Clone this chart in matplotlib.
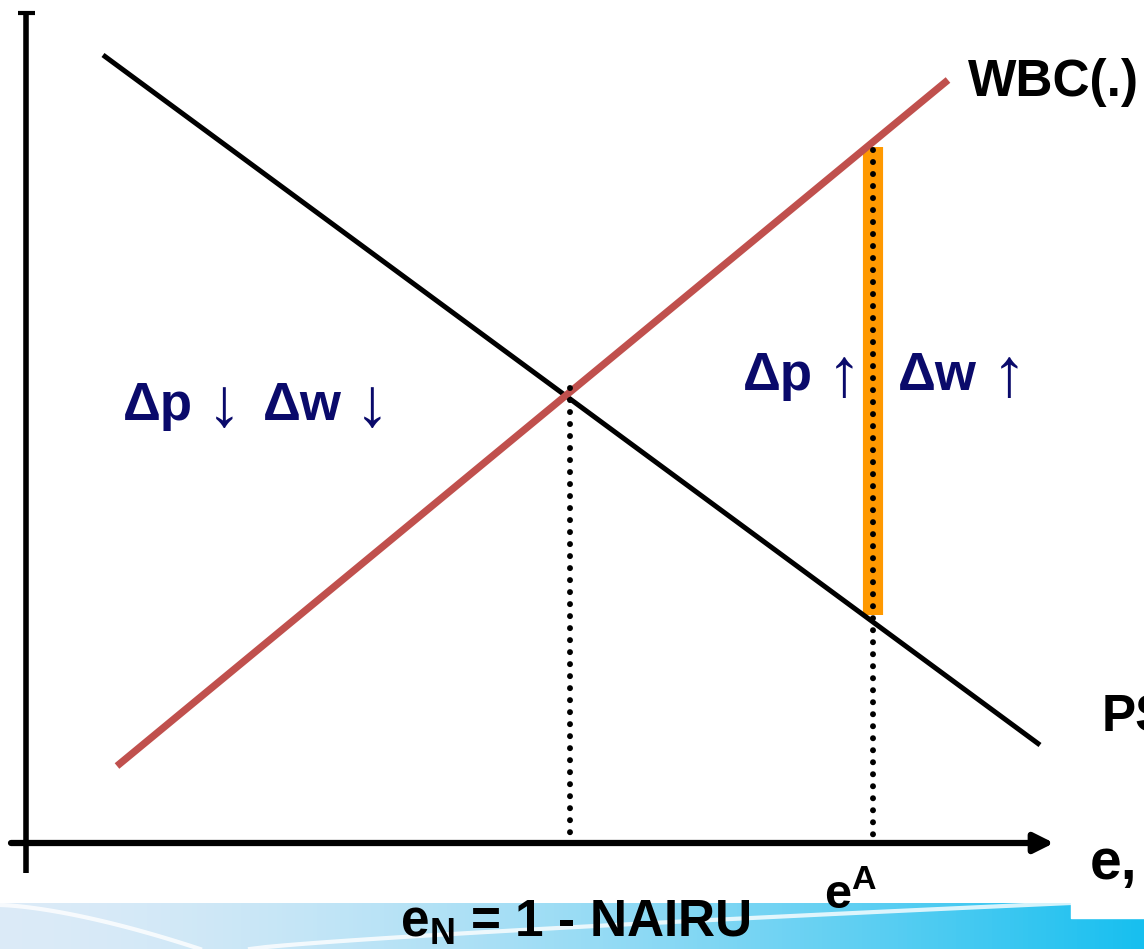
import numpy as np
import matplotlib
matplotlib.use("Agg")
import matplotlib.pyplot as plt

plt.rcParams['font.family'] = ['Liberation Sans', 'DejaVu Sans']
plt.rcParams['mathtext.fontset'] = 'custom'
plt.rcParams['mathtext.bf'] = 'Liberation Sans:bold'
plt.rcParams['mathtext.rm'] = 'Liberation Sans:bold'

# diagram coordinates (pixel-like, y grows downward)
ps_x = [103, 1040]          # price-setting curve, falls to the right
ps_y = [55, 745]
wbc_x = [117, 948]          # wage-bargaining curve, rises to the right
wbc_y = [766, 80]
e_n = 569                   # natural rate (intersection)
e_a = 873                   # actual employment e^A
gap_top, gap_bottom = 147, 615
axis_y = 843
axis_x = 26

navy = '#0a0a6b'
red = '#c0504d'
orange = '#ff9900'

fig = plt.figure(figsize=(11.44, 9.49), dpi=100)
ax = fig.add_axes([0, 0, 1, 1])
ax.set_xlim(0, 1144)
ax.set_ylim(949, 0)
ax.axis('off')

# bottom slide band (light blue -> cyan gradient)
grad = np.linspace(0, 1, 256)
c0 = np.array([0.86, 0.92, 0.97])
c1 = np.array([0.09, 0.75, 0.94])
band = c0[None, :] * (1 - grad[:, None] ** 1.6) + c1[None, :] * grad[:, None] ** 1.6
ax.imshow(band[None, :, :], extent=[0, 1144, 949, 903], aspect='auto', zorder=0)
ax.fill_between([1071, 1144], 903, 918, color='white', zorder=1)
sx = np.linspace(0, 200, 50)
ax.plot(sx, 905 + 44 * (sx / 200) ** 1.5, color='white', lw=3, alpha=0.8, zorder=1)
sx2 = np.linspace(250, 1071, 50)
ax.plot(sx2, 949 - 46 * ((sx2 - 250) / 821) ** 0.8, color='white', lw=3, alpha=0.8, zorder=1)

# axes
ax.plot([axis_x, axis_x], [12, 873], color='black', lw=4, solid_capstyle='butt', zorder=3)
ax.plot([18, 35], [13, 13], color='black', lw=3, solid_capstyle='butt', zorder=3)
ax.annotate('', xy=(1054, axis_y), xytext=(11, axis_y),
            arrowprops=dict(arrowstyle='-|>,head_length=0.9,head_width=0.45', lw=4.5,
                            color='black', shrinkA=0, shrinkB=0, mutation_scale=13), zorder=3)

# orange gap bar
ax.plot([e_a, e_a], [gap_top, gap_bottom], color=orange, lw=14.5, solid_capstyle='butt', zorder=2)

# curves
ax.plot(ps_x, ps_y, color='black', lw=3.6, solid_capstyle='butt', zorder=4)
ax.plot(wbc_x, wbc_y, color=red, lw=5.2, solid_capstyle='butt', zorder=4)

# dotted drop lines
dots = dict(color='black', lw=4.3, linestyle=(0, (0.01, 2.0)), dash_capstyle='round', zorder=5)
ax.plot([e_n + 1, e_n + 1], [388, 835], **dots)
ax.plot([e_a, e_a], [150, 835], **dots)

# labels
ax.text(968, 96, 'WBC(.)', fontsize=37, fontweight='bold', ha='left', va='baseline')
ax.text(1102, 731, 'PS', fontsize=37, fontweight='bold', ha='left', va='baseline')
ax.text(1090, 879, 'e,', fontsize=41, fontweight='bold', ha='left', va='baseline')

big = dict(fontsize=38, fontweight='bold', color=navy, ha='left', va='baseline')
arr = dict(fontsize=50, fontweight='normal', color=navy, ha='left', va='center')
ax.text(123, 420, 'Δp', **big)
ax.text(207, 408, '↓', **arr)
ax.text(263, 420, 'Δw', **big)
ax.text(355, 408, '↓', **arr)
ax.text(743, 390, 'Δp', **big)
ax.text(827, 378, '↑', **arr)
ax.text(898, 390, 'Δw', **big)
ax.text(992, 378, '↑', **arr)

ax.text(400, 937, r'$\mathbf{e}_{\mathbf{N}}$ = 1 - NAIRU', fontsize=37, fontweight='bold',
        ha='left', va='baseline', zorder=6)
ax.text(824, 908, r'$\mathbf{e}^{\mathbf{A}}$', fontsize=35, fontweight='bold',
        ha='left', va='baseline', zorder=6)

fig.savefig('out.png', dpi=100)
